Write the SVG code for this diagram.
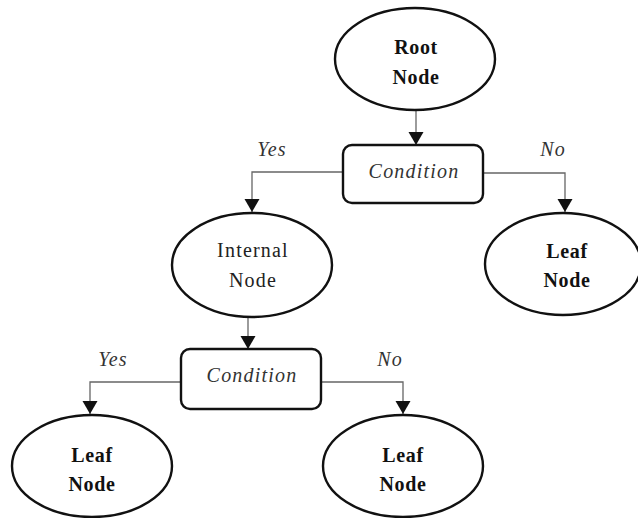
<svg xmlns="http://www.w3.org/2000/svg" width="638" height="518" viewBox="0 0 638 518">
<style>
.shape{fill:#fff;stroke:#111;stroke-width:2.4}
.t{font-family:"Liberation Serif","Times New Roman",serif;font-size:20px;fill:#222;text-anchor:middle;letter-spacing:1.2px}
.b{font-weight:bold;letter-spacing:0.6px;fill:#111}
.i{font-style:italic;fill:#333}
.c{fill:none;stroke:#666;stroke-width:1.3}
</style>
<defs>
<marker id="arr" markerWidth="14" markerHeight="16" refX="13" refY="7.5" orient="auto" markerUnits="userSpaceOnUse">
<path d="M0,0 L13,7.5 L0,15 Z" fill="#111"/>
</marker>
</defs>
<rect width="638" height="518" fill="#fff"/>
<g id="connectors">
<path class="c" d="M416,110 V145" marker-end="url(#arr)"/>
<path class="c" d="M343,172 H252 V212" marker-end="url(#arr)"/>
<path class="c" d="M483,173 H565 V212" marker-end="url(#arr)"/>
<path class="c" d="M248,317 V349" marker-end="url(#arr)"/>
<path class="c" d="M181,382 H90 V414" marker-end="url(#arr)"/>
<path class="c" d="M321,382 H403 V414" marker-end="url(#arr)"/>
<text class="t i" x="272" y="156">Yes</text>
<text class="t i" x="553" y="156">No</text>
<text class="t i" x="113" y="366">Yes</text>
<text class="t i" x="390" y="366">No</text>
</g>
<g id="root">
<ellipse class="shape" cx="415" cy="59" rx="80" ry="51"/>
<text class="t b" x="416" y="54">Root</text>
<text class="t b" x="416" y="84">Node</text>
</g>
<g id="cond1">
<rect class="shape" x="343" y="145" width="140" height="58" rx="9"/>
<text class="t i" x="414" y="178">Condition</text>
</g>
<g id="internal">
<ellipse class="shape" cx="252" cy="265" rx="80" ry="52"/>
<text class="t" x="253" y="257">Internal</text>
<text class="t" x="253" y="287">Node</text>
</g>
<g id="leaf1">
<ellipse class="shape" cx="563" cy="264" rx="78" ry="51"/>
<text class="t b" x="567" y="258">Leaf</text>
<text class="t b" x="567" y="287">Node</text>
</g>
<g id="cond2">
<rect class="shape" x="181" y="349" width="140" height="60" rx="9"/>
<text class="t i" x="252" y="382">Condition</text>
</g>
<g id="leaf2">
<ellipse class="shape" cx="92" cy="466" rx="80" ry="51"/>
<text class="t b" x="92" y="462">Leaf</text>
<text class="t b" x="92" y="491">Node</text>
</g>
<g id="leaf3">
<ellipse class="shape" cx="403" cy="466" rx="80" ry="51"/>
<text class="t b" x="403" y="462">Leaf</text>
<text class="t b" x="403" y="491">Node</text>
</g>
</svg>
